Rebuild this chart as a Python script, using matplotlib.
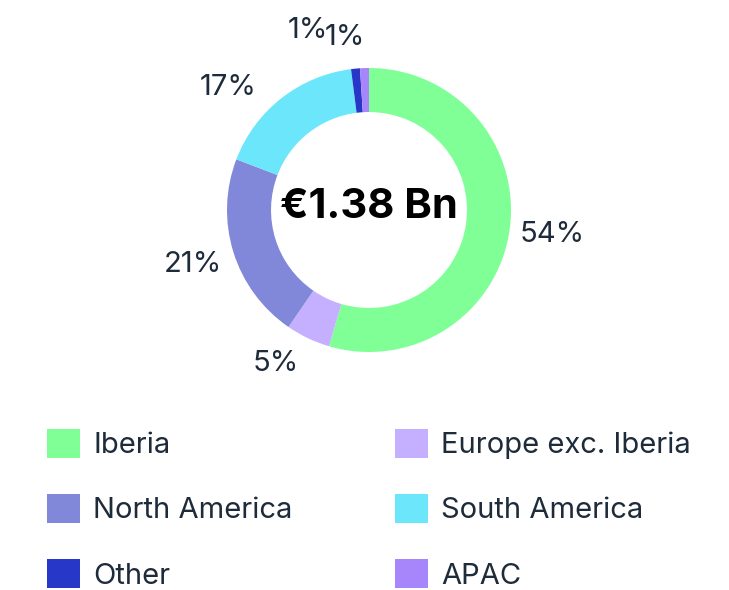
import matplotlib.pyplot as plt
from matplotlib.patches import Patch

plt.rcParams['font.family'] = ['Inter', 'DejaVu Sans']

regions = ['Iberia', 'Europe exc. Iberia', 'North America', 'South America', 'Other', 'APAC']
shares = [54, 5, 21, 17, 1, 1]
colors = ['#80FF96', '#C5B0FF', '#8288D9', '#6BE6FA', '#2738C8', '#A785FA']
total_label = '€1.38 Bn'

text_color = '#1E2B3A'
W, H = 729, 590
fig = plt.figure(figsize=(W / 100, H / 100), dpi=100)

# donut: centre (369, 210) px, radius 142 px
cx, cy, r = 369, 210, 142
ax = fig.add_axes([(cx - r) / W, (H - cy - r) / H, 2 * r / W, 2 * r / H])
wedges, texts = ax.pie(shares, colors=colors, startangle=90, counterclock=False,
                       radius=1, labels=[f'{v}%' for v in shares], labeldistance=1.3,
                       wedgeprops=dict(width=0.31, linewidth=0),
                       textprops=dict(fontsize=21, color=text_color, ha='center', va='center'))
# nudge labels like the original layout
nudges = [(0, 0.01), (-0.1, 0.09), (0, 0), (-0.19, -0.16), (-0.31, -0.03), (-0.13, -0.085)]
for t, (dx, dy) in zip(texts, nudges):
    x, y = t.get_position()
    t.set_position((x + dx, y + dy))
ax.set_xlim(-1, 1)
ax.set_ylim(-1, 1)
ax.set_aspect('equal')
ax.axis('off')
ax.text(0, 0.02, total_label, ha='center', va='center', fontsize=30,
        fontweight='bold', color='black')

handles = [Patch(facecolor=c, edgecolor='none') for c in colors]
common = dict(frameon=False, fontsize=21, handlelength=1.13, handleheight=1.13,
              handletextpad=0.45, labelspacing=1.2, labelcolor=text_color,
              borderaxespad=0, borderpad=0)
leg1 = fig.legend(handles[0::2], regions[0::2], loc='upper left',
                  bbox_to_anchor=(47 / W, 1 - 429 / H), **common)
leg2 = fig.legend(handles[1::2], regions[1::2], loc='upper left',
                  bbox_to_anchor=(395 / W, 1 - 429 / H), **common)

fig.savefig('out.png', dpi=100)
